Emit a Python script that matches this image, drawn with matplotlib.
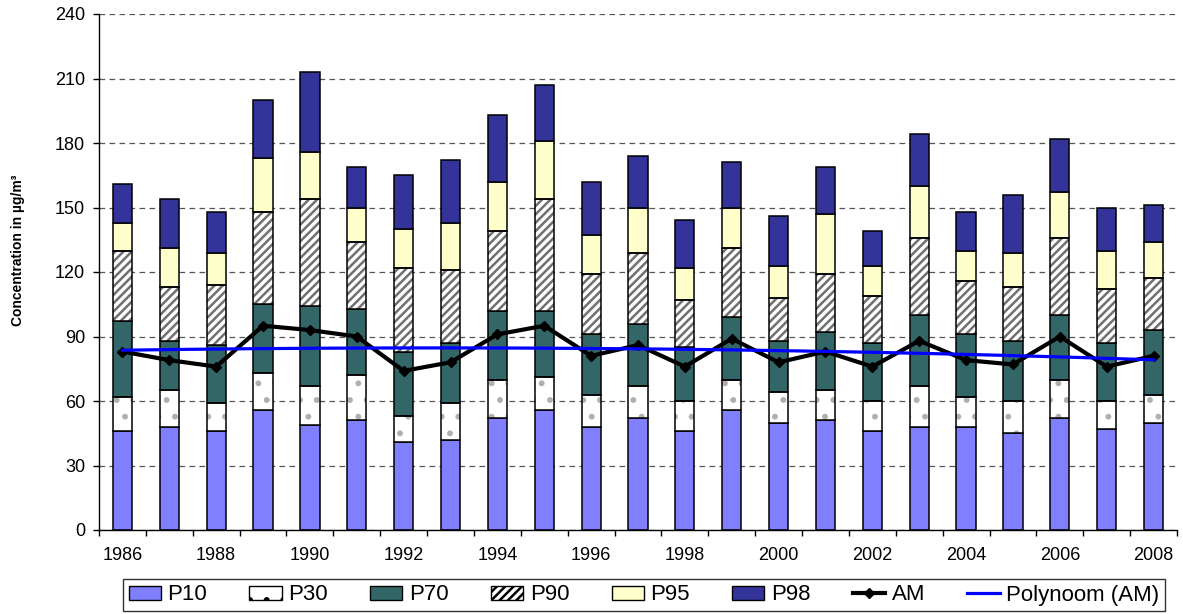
import numpy as np
import matplotlib
matplotlib.use("Agg")
import matplotlib.pyplot as plt
from matplotlib.patches import Patch
from matplotlib.lines import Line2D

# Annual concentration percentiles and arithmetic mean (µg/m³)
years = list(range(1986, 2009))
p10 = [46, 48, 46, 56, 49, 51, 41, 42, 52, 56, 48, 52, 46, 56, 50, 51, 46, 48, 48, 45, 52, 47, 50]
p30 = [62, 65, 59, 73, 67, 72, 53, 59, 70, 71, 63, 67, 60, 70, 64, 65, 60, 67, 62, 60, 70, 60, 63]
p70 = [97, 88, 86, 105, 104, 103, 83, 87, 102, 102, 91, 96, 85, 99, 88, 92, 87, 100, 91, 88, 100, 87, 93]
p90 = [130, 113, 114, 148, 154, 134, 122, 121, 139, 154, 119, 129, 107, 131, 108, 119, 109, 136, 116, 113, 136, 112, 117]
p95 = [143, 131, 129, 173, 176, 150, 140, 143, 162, 181, 137, 150, 122, 150, 123, 147, 123, 160, 130, 129, 157, 130, 134]
p98 = [161, 154, 148, 200, 213, 169, 165, 172, 193, 207, 162, 174, 144, 171, 146, 169, 139, 184, 148, 156, 182, 150, 151]
am = [83, 79, 76, 95, 93, 90, 74, 78, 91, 95, 81, 86, 76, 89, 78, 83, 76, 88, 79, 77, 90, 76, 81]

series_names = ["P10", "P30", "P70", "P90", "P95", "P98"]
face_colors = ["#8080FF", "#FFFFFF", "#336666", "#FFFFFF", "#FFFFCC", "#333399"]
hatches = [None, ".", None, "////", None, None]

plt.rcParams["font.family"] = ["Liberation Sans", "DejaVu Sans"]
plt.rcParams["hatch.linewidth"] = 1.8

fig = plt.figure(figsize=(11.83, 6.14), dpi=100)
ax = fig.add_axes([99 / 1183, 84 / 614, 1078 / 1183, 516 / 614])

x = np.arange(len(years))
width = 0.41
levels = [p10, p30, p70, p90, p95, p98]
bottom = np.zeros(len(years))
for name, vals, fc, h in zip(series_names, levels, face_colors, hatches):
    vals = np.asarray(vals, dtype=float)
    height = vals - bottom
    if h is not None:
        hatch_col = "#b0b0b0" if h == "." else "#707070"
        ax.bar(x, height, width, bottom=bottom, color=fc, edgecolor=hatch_col,
               hatch=h, linewidth=0, zorder=2)
        ax.bar(x, height, width, bottom=bottom, fill=False, edgecolor="black",
               linewidth=1.1, zorder=2.1)
    else:
        ax.bar(x, height, width, bottom=bottom, color=fc, edgecolor="black",
               linewidth=1.1, zorder=2)
    bottom = vals

# Arithmetic mean with a second-order polynomial trend
ax.plot(x, am, color="black", linewidth=3.0, marker="D", markersize=5, zorder=4)
coef = np.polyfit(x, am, 2)
xs = np.linspace(x[0], x[-1], 200)
ax.plot(xs, np.polyval(coef, xs), color="#0000FF", linewidth=2.3, zorder=5)

# Axes styling
ax.set_xlim(-0.5, len(years) - 0.5)
ax.set_ylim(0, 240)
ax.set_yticks(np.arange(0, 241, 30))
ax.yaxis.grid(True, color="#555555", linestyle=(0, (4.5, 3.5)), linewidth=0.9)
ax.set_axisbelow(True)
for side in ("top", "right"):
    ax.spines[side].set_visible(False)
ax.spines["left"].set_linewidth(1.0)
ax.spines["bottom"].set_linewidth(1.0)

ax.set_xticks(np.arange(-0.5, len(years), 1.0))
ax.set_xticklabels([])
ax.set_xticks(x[::2], minor=True)
ax.set_xticklabels([str(y) for y in years[::2]], minor=True)
ax.tick_params(axis="x", which="major", length=4.5, width=1, direction="out")
ax.tick_params(axis="x", which="minor", length=0, pad=12, labelsize=13)
ax.tick_params(axis="y", length=4, width=1, pad=6, labelsize=13)

fig.text(18 / 1183, 1 - 250 / 614, "Concentration in µg/m³", rotation=90,
         ha="center", va="center", fontsize=10, fontweight="bold")

handles = []
for name, fc, h in zip(series_names, face_colors, hatches):
    handles.append(Patch(facecolor=fc, edgecolor="black", hatch=h, linewidth=1.0, label=name))
handles.append(Line2D([], [], color="black", linewidth=3.0, marker="D", markersize=5, label="AM"))
handles.append(Line2D([], [], color="#0000FF", linewidth=2.3, label="Polynoom (AM)"))

leg = fig.legend(handles=handles, loc="center", bbox_to_anchor=(644 / 1183, 1 - 595 / 614),
                 ncol=8, fontsize=16, frameon=True, fancybox=False, edgecolor="black",
                 handlelength=1.45, handleheight=0.6, handletextpad=0.3, columnspacing=1.9,
                 borderpad=0.25, borderaxespad=0)
leg.get_frame().set_linewidth(1.0)

fig.savefig("out.png", dpi=100)
